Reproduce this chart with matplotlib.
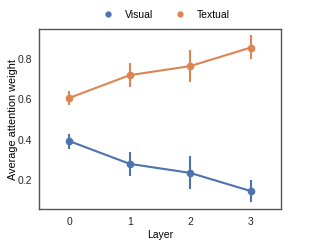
import matplotlib
matplotlib.use("Agg")
import matplotlib.pyplot as plt
from matplotlib.lines import Line2D

layers = [0, 1, 2, 3]
visual = [0.393, 0.28, 0.235, 0.145]
visual_lo = [0.355, 0.22, 0.155, 0.09]
visual_hi = [0.43, 0.34, 0.32, 0.20]
textual = [0.607, 0.72, 0.765, 0.857]
textual_lo = [0.57, 0.66, 0.685, 0.80]
textual_hi = [0.643, 0.78, 0.845, 0.92]

plt.rcParams['font.family'] = ['Liberation Sans', 'DejaVu Sans']
plt.rcParams['font.size'] = 7.5

fig = plt.figure(figsize=(3.12, 2.4), dpi=100)
ax = fig.add_axes([39/312, 1-209/240, 242/312, 180/240])

def draw(vals, lo, hi, color, label):
    yerr = [[v - l for v, l in zip(vals, lo)], [h - v for v, h in zip(vals, hi)]]
    ax.errorbar(layers, vals, yerr=yerr, color=color, marker='o', markersize=4.5,
                linewidth=1.5, elinewidth=1.5, capsize=0, label=label)

draw(visual, visual_lo, visual_hi, '#4C72B0', 'Visual')
draw(textual, textual_lo, textual_hi, '#DD8452', 'Textual')

ax.set_xlim(-0.5, 3.5)
ax.set_ylim(0.056, 0.949)
ax.set_xticks(layers)
ax.set_yticks([0.2, 0.4, 0.6, 0.8])
ax.set_yticklabels(['0.2', '0.4', '0.6', '0.8'])
ax.set_xlabel('Layer', labelpad=2)
ax.set_ylabel('Average attention weight', labelpad=0, fontsize=7.8)
ax.tick_params(axis='y', length=0, pad=5, colors='#262626')
ax.tick_params(axis='x', length=0, pad=6, colors='#262626')
for s in ax.spines.values():
    s.set_color('#555555')
    s.set_linewidth(1.0)

h = [Line2D([], [], color=c, marker='o', linestyle='', markersize=3.5) for c in ['#4C72B0', '#DD8452']]
fig.legend(h, ['Visual', 'Textual'], loc='center', bbox_to_anchor=(164/312, 1-15/240),
           ncol=2, frameon=False, handletextpad=0.6, columnspacing=1.6, fontsize=7.5)

fig.savefig('out.png', dpi=100)
